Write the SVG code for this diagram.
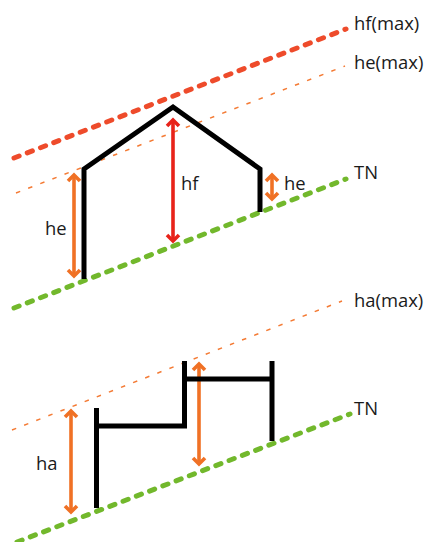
<svg xmlns="http://www.w3.org/2000/svg" width="426" height="542" viewBox="0 0 426 542">
<style>
.t{font-family:"Open Sans","Noto Sans","Liberation Sans",sans-serif;font-size:18.400px;fill:#1a1a1a}
.red{fill:none;stroke:#ee4b2b;stroke-width:5;stroke-dasharray:5.500 8.700;stroke-linecap:round}
.or{fill:none;stroke:#f47b35;stroke-width:1.500;stroke-dasharray:4.500 8.500}
.gr{fill:none;stroke:#72b82c;stroke-width:5;stroke-dasharray:5.500 8.700;stroke-linecap:round}
.b{fill:none;stroke:#000;stroke-width:5}
.a1{stroke:#f07125;stroke-width:3.600;fill:none}
.a2{stroke:#e8231a;stroke-width:3.600;fill:none}
</style>
<defs>
<marker id="mo" viewBox="-9 -9 18 18" markerWidth="18" markerHeight="18" markerUnits="userSpaceOnUse" orient="auto-start-reverse"><path d="M-6-6 0 0-6 6" fill="none" stroke="#f07125" stroke-width="3.600"/></marker>
<marker id="mr" viewBox="-9 -9 18 18" markerWidth="18" markerHeight="18" markerUnits="userSpaceOnUse" orient="auto-start-reverse"><path d="M-6-6 0 0-6 6" fill="none" stroke="#e8231a" stroke-width="3.600"/></marker>
</defs>
<g id="connectors">
<path class="red" d="M14 158 346 29"/>
<path class="or" d="M16 193 345 66"/>
<path class="gr" d="M14 308 346 179"/>
<path class="or" d="M12 430 342 301"/>
<path class="gr" d="M17 542 350 414"/>
<path class="a1" marker-start="url(#mo)" marker-end="url(#mo)" d="M74 175V276"/>
<path class="a2" marker-start="url(#mr)" marker-end="url(#mr)" d="M173 120V241"/>
<path class="a1" marker-start="url(#mo)" marker-end="url(#mo)" d="M272 175V199"/>
<path class="a1" marker-start="url(#mo)" marker-end="url(#mo)" d="M71 411V512"/>
<path class="a1" marker-start="url(#mo)" marker-end="url(#mo)" d="M199 364V464"/>
</g>
<g id="house"><path class="b" d="M84 279V169L173 107 260 169V212"/></g>
<g id="building"><path class="b" d="M96.500 408V508M96 426H184.500V361M184 379H272M272 361V441"/></g>
<g id="labels">
<text class="t" x="354" y="30">hf(max)</text>
<text class="t" x="354" y="69">he(max)</text>
<text class="t" x="354" y="179">TN</text>
<text class="t" x="181" y="190">hf</text>
<text class="t" x="284" y="190">he</text>
<text class="t" x="45" y="235">he</text>
<text class="t" x="354" y="307">ha(max)</text>
<text class="t" x="354" y="415">TN</text>
<text class="t" x="36" y="470">ha</text>
</g>
</svg>
